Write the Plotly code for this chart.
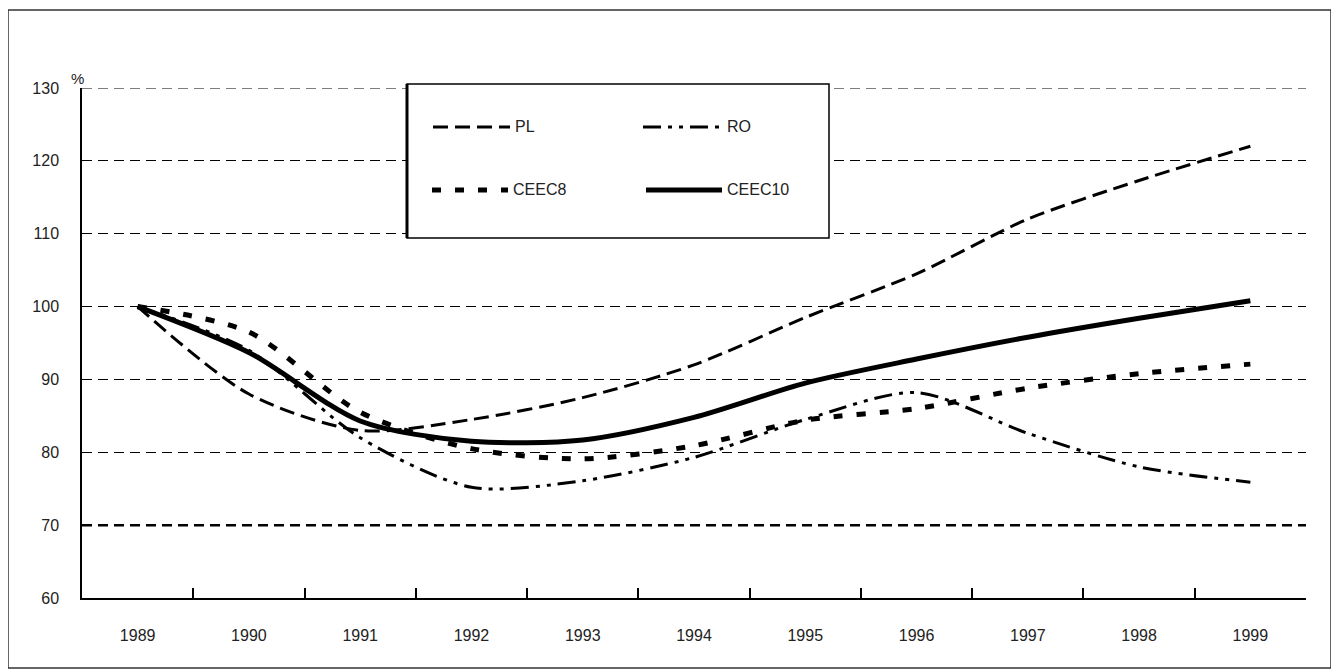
import plotly.graph_objects as go

# ---- data ----
years = ["1989", "1990", "1991", "1992", "1993", "1994", "1995", "1996", "1997", "1998", "1999"]
pl = [100, 88, 83, 84.5, 87.5, 92, 98.5, 104.5, 112, 117.3, 122]
ro = [100, 94, 82, 75.2, 76.1, 79.3, 84.5, 88.2, 82.6, 78, 75.9]
ceec8 = [100, 96.5, 85.5, 80.5, 79.1, 80.9, 84.4, 86, 88.8, 90.8, 92.1]
ceec10 = [100, 93.7, 84.3, 81.5, 81.7, 84.8, 89.5, 92.8, 95.8, 98.4, 100.8]
series_names = ["PL", "RO", "CEEC8", "CEEC10"]
y_ticks = [60, 70, 80, 90, 100, 110, 120, 130]
emphasized_grid = [70]
edge_grid = [130]

# ---- layout constants (page has an 8px body margin) ----
OFF = 8
W, H = 1339, 669
PLOT_L, PLOT_R, PLOT_T, PLOT_B = 82, 1306, 88, 598  # target screen pixels
ML, MT = PLOT_L - OFF, PLOT_T - OFF
MR = W - (PLOT_R - OFF)
MB = H - (PLOT_B - OFF)
PW, PH = PLOT_R - PLOT_L, PLOT_B - PLOT_T
FONT = "Liberation Sans Narrow, Arial Narrow, Liberation Sans, Arial, sans-serif"


def px(x):
    return (x - PLOT_L) / PW


def py(y):
    return (PLOT_B - y) / PH


styles = {
    "PL": dict(color="black", width=3, dash="15px,7px"),
    "RO": dict(color="black", width=3, dash="18px,7px,4px,7px,4px,7px"),
    "CEEC8": dict(color="black", width=5, dash="9px,14px"),
    "CEEC10": dict(color="black", width=5, dash="solid"),
}

fig = go.Figure()
for name, vals in zip(series_names, [pl, ro, ceec8, ceec10]):
    fig.add_trace(go.Scatter(
        x=years, y=vals, mode="lines", name=name,
        line=dict(shape="spline", smoothing=0.8, **styles[name]),
        showlegend=False,
    ))

shapes = []
# outer border
shapes.append(dict(type="rect", xref="paper", yref="paper",
                   x0=px(8), x1=px(1331), y0=py(668), y1=py(10),
                   line=dict(color="#333", width=1.5), layer="below"))
# emphasized gridline and top-edge gridline
for g in emphasized_grid:
    shapes.append(dict(type="line", xref="paper", yref="y", x0=0, x1=1, y0=g, y1=g,
                       line=dict(color="black", width=2.5, dash="10px,6px"), layer="below"))
for g in edge_grid:
    shapes.append(dict(type="line", xref="paper", yref="y", x0=0, x1=1, y0=g, y1=g,
                       line=dict(color="black", width=1.2, dash="10px,6px"), layer="below"))
# legend box
lx0, lx1, ly0, ly1 = 407, 829, 84, 238
shapes.append(dict(type="rect", xref="paper", yref="paper",
                   x0=px(lx0), x1=px(lx1), y0=py(ly1), y1=py(ly0),
                   fillcolor="white", line=dict(color="black", width=1.5)))
shapes.append(dict(type="line", xref="paper", yref="paper",
                   x0=px(lx0), x1=px(lx0), y0=py(ly1), y1=py(ly0),
                   line=dict(color="black", width=3)))
legend_pos = {"PL": (433, 510, 127), "RO": (643, 722, 127),
              "CEEC8": (432, 508, 190), "CEEC10": (646, 722, 190)}
annotations = []
for name in series_names:
    a, b, yy = legend_pos[name]
    st = styles[name]
    shapes.append(dict(type="line", xref="paper", yref="paper",
                       x0=px(a), x1=px(b), y0=py(yy), y1=py(yy),
                       line=dict(color="black", width=st["width"], dash=st["dash"])))
    annotations.append(dict(xref="paper", yref="paper", x=px(b + 3), y=py(yy),
                            text=name, showarrow=False, xanchor="left", yanchor="middle",
                            font=dict(family=FONT, size=16, color="#222")))

annotations.append(dict(xref="paper", yref="paper", x=px(77), y=py(78), text="%",
                        showarrow=False, xanchor="center", yanchor="middle",
                        font=dict(family=FONT, size=15, color="#222")))

fig.update_layout(
    width=W, height=H,
    margin=dict(l=ML, r=MR, t=MT, b=MB),
    paper_bgcolor="white", plot_bgcolor="white",
    font=dict(family=FONT, size=16, color="#222"),
    shapes=shapes, annotations=annotations,
    xaxis=dict(type="category", categoryorder="array", categoryarray=years,
               range=[-0.5, len(years) - 0.5], tickson="boundaries",
               ticks="inside", ticklen=10, tickwidth=1.5, tickcolor="black",
               showline=True, linecolor="black", linewidth=1.5,
               showgrid=False, zeroline=False, ticklabelstandoff=22,
               tickfont=dict(family=FONT, size=16, color="#222")),
    yaxis=dict(range=[60, 130], tickvals=y_ticks, ticks="",
               showline=True, linecolor="black", linewidth=1.5,
               showgrid=True, gridcolor="black", gridwidth=1, griddash="10px,6px",
               zeroline=False, ticklabelstandoff=18,
               tickfont=dict(family=FONT, size=16, color="#222")),
)

fig.write_html("out.html")
